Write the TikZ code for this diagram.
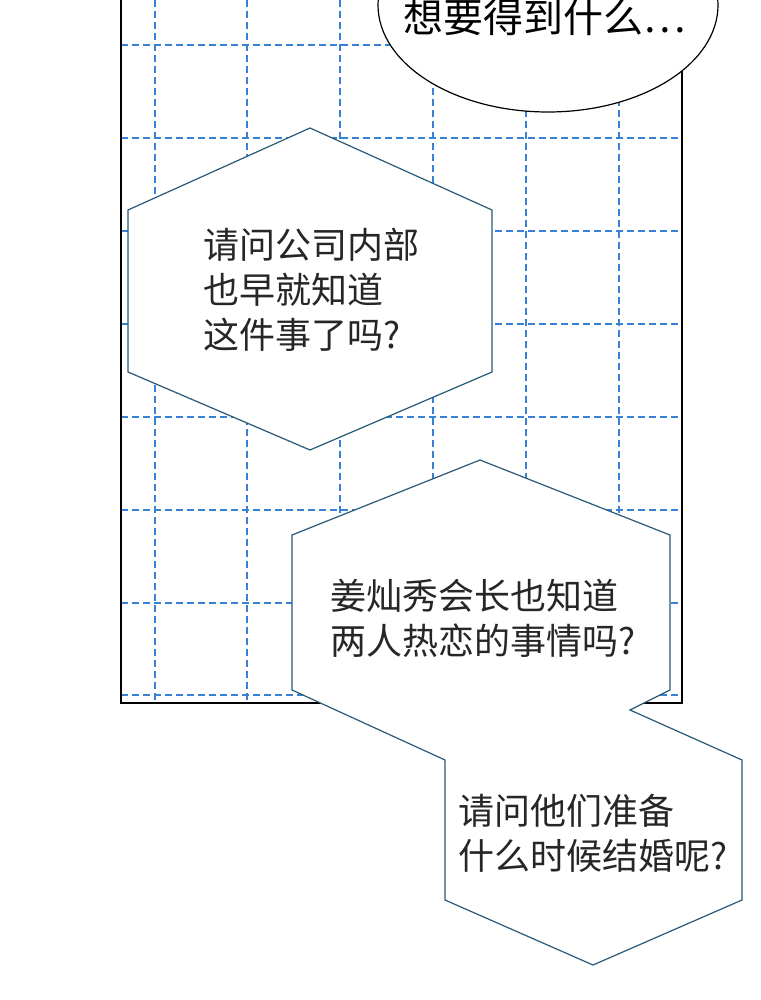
\documentclass[tikz,border=0pt]{standalone}
\usepackage{fontspec}
\newfontfamily\cjk{Noto Sans CJK SC}
\definecolor{gridblue}{RGB}{55,130,215}
\definecolor{bubbleline}{RGB}{40,90,120}
\tikzset{
    gridline/.style={gridblue,dashed,line width=1.5pt,dash pattern=on 7pt off 4pt},
    bubble/.style={bubbleline,fill=white,line width=1.2pt,line join=miter},
    talk/.style={anchor=west,align=left,font=\cjk\fontsize{36}{45}\selectfont,text=black!85,inner sep=0pt}
}
\begin{document}
\begin{tikzpicture}[x=1pt,y=-1pt]
    \useasboundingbox (0,0) rectangle (760,1000);
    \fill[white] (0,0) rectangle (760,1000);

    % panel and grid
    \begin{scope}
        \clip (121,0) rectangle (682,703);
        \foreach \gx in {155,247,340,433,526,619}
            \draw[gridline] (\gx,0) -- (\gx,703);
        \foreach \gy in {45,138,231,324,417,510,603,695}
            \draw[gridline] (121,\gy) -- (682,\gy);
    \end{scope}
    \draw[black,line width=1.5pt] (121,-5) -- (121,703) -- (682,703) -- (682,-5);

    % top speech bubble
    \draw[black,fill=white,line width=1.2pt] (548,5) ellipse (170 and 107);
    \node (wish) at (545,17) [font=\cjk\fontsize{40}{44}\selectfont] {想要得到什么…};

    % hexagon bubble
    \draw[bubble] (310,128) -- (492,210) -- (492,372) -- (310,450)
        -- (128,372) -- (128,210) -- cycle;
    \node (ask1) at (203,290) [talk] {请问公司内部\\也早就知道\\这件事了吗?};

    % joined bubbles
    \draw[bubble] (480,460) -- (670,535) -- (670,690) -- (630,710)
        -- (742,760) -- (742,900) -- (593,965) -- (445,900) -- (445,760)
        -- (292,690) -- (292,535) -- cycle;
    \node (ask2) at (330,618) [talk] {姜灿秀会长也知道\\两人热恋的事情吗?};
    \node (ask3) at (458,833) [talk] {请问他们准备\\什么时候结婚呢?};
\end{tikzpicture}
\end{document}
